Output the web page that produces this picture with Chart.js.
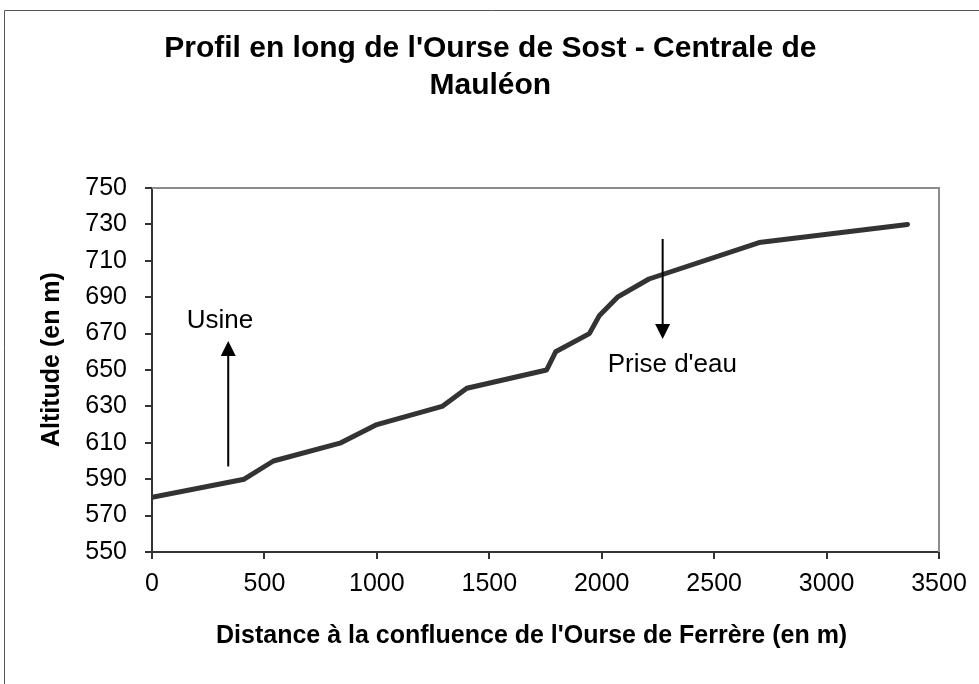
<!DOCTYPE html>
<html>
<head>
<meta charset="utf-8">
<script src="https://cdn.jsdelivr.net/npm/chart.js@4/dist/chart.umd.min.js"></script>
<style>
html, body { margin: 0; padding: 0; background: #fff; }
</style>
</head>
<body>
<canvas id="profil" width="979" height="684"></canvas>
<script>
// profil en long : distance (m) / altitude (m)
let distances = [0, 410, 540, 840, 1000, 1290, 1400, 1755, 1795, 1945, 1990, 2070, 2210, 2700, 3360];
let altitudes = [580, 590, 600, 610, 620, 630, 640, 650, 660, 670, 680, 690, 700, 720, 730];
let xTicks = [0, 500, 1000, 1500, 2000, 2500, 3000, 3500];
let yTicks = [550, 570, 590, 610, 630, 650, 670, 690, 710, 730, 750];

// fleches : abscisse, depart, pointe (en unites du graphique)
let arrowLabels = ['Usine', "Prise d'eau"];
let arrowX = [339, 2271];
let arrowFrom = [597, 722];
let arrowTo = [666, 667];
let labelX = [302, 2314];
let labelY = [678, 654];

let fontName = "'Liberation Sans', Arial, sans-serif";
let ink = '#333333';
let pad = '\u00a0\u00a0\u00a0\u00a0\u00a0';

let points = distances.map((d, i) => ({ x: d, y: altitudes[i] }));

let framePlugin = {
    id: 'frame',
    beforeDraw(chart) {
        let ctx = chart.ctx;
        ctx.save();
        ctx.fillStyle = '#fff';
        ctx.fillRect(0, 0, chart.width, chart.height);
        ctx.strokeStyle = '#555';
        ctx.lineWidth = 1;
        ctx.beginPath();
        ctx.moveTo(4.5, chart.height);
        ctx.lineTo(4.5, 10.5);
        ctx.lineTo(chart.width, 10.5);
        ctx.stroke();
        ctx.restore();
    },
    beforeDatasetsDraw(chart) {
        let a = chart.chartArea;
        let ctx = chart.ctx;
        ctx.save();
        ctx.strokeStyle = '#8c8c8c';
        ctx.lineWidth = 2;
        ctx.beginPath();
        ctx.moveTo(a.left, a.top);
        ctx.lineTo(a.right, a.top);
        ctx.lineTo(a.right, a.bottom);
        ctx.stroke();
        ctx.restore();
    }
};

let arrowPlugin = {
    id: 'arrows',
    afterDatasetsDraw(chart) {
        let ctx = chart.ctx;
        let xs = chart.scales.x;
        let ys = chart.scales.y;
        ctx.save();
        ctx.strokeStyle = '#000';
        ctx.fillStyle = '#000';
        ctx.lineWidth = 2;
        for (let i = 0; i < arrowLabels.length; i++) {
            let px = xs.getPixelForValue(arrowX[i]);
            let y0 = ys.getPixelForValue(arrowFrom[i]);
            let y1 = ys.getPixelForValue(arrowTo[i]);
            let dir = y1 < y0 ? 1 : -1;
            ctx.beginPath();
            ctx.moveTo(px, y0);
            ctx.lineTo(px, y1 + dir * 12);
            ctx.stroke();
            ctx.beginPath();
            ctx.moveTo(px, y1);
            ctx.lineTo(px - 7.5, y1 + dir * 15);
            ctx.lineTo(px + 7.5, y1 + dir * 15);
            ctx.closePath();
            ctx.fill();

            ctx.font = '26px ' + fontName;
            ctx.textAlign = 'center';
            ctx.textBaseline = 'middle';
            ctx.fillText(arrowLabels[i], xs.getPixelForValue(labelX[i]), ys.getPixelForValue(labelY[i]) + 2);
        }
        ctx.restore();
    }
};

new Chart(document.getElementById('profil'), {
    type: 'line',
    data: {
        datasets: [{
            data: points,
            borderColor: ink,
            borderWidth: 5,
            borderCapStyle: 'round',
            borderJoinStyle: 'round',
            pointRadius: 0,
            tension: 0,
            fill: false
        }]
    },
    options: {
        responsive: false,
        animation: false,
        devicePixelRatio: 1,
        layout: { padding: { left: 0, right: 40, top: 0, bottom: 0 } },
        plugins: {
            legend: { display: false },
            tooltip: { enabled: false },
            title: {
                display: true,
                text: [pad + "Profil en long de l'Ourse de Sost - Centrale de", pad + 'Mauléon'],
                color: '#000',
                font: { family: fontName, size: 30, weight: 'bold', lineHeight: 1.23 },
                padding: { top: 30.5, bottom: 83.7 }
            }
        },
        scales: {
            x: {
                type: 'linear',
                min: 0,
                max: 3500,
                afterBuildTicks: (s) => { s.ticks = xTicks.map(v => ({ value: v })); },
                afterFit: (s) => { s.height = 132; },
                ticks: {
                    color: '#000',
                    font: { family: fontName, size: 25 },
                    padding: 10,
                    maxRotation: 0,
                    callback: (v) => String(v)
                },
                grid: { drawOnChartArea: false, drawTicks: true, tickLength: 7, color: ink, lineWidth: 2 },
                border: { color: ink, width: 2 },
                title: {
                    display: true,
                    text: "Distance à la confluence de l'Ourse de Ferrère (en m)\u00a0\u00a0\u00a0\u00a0",
                    color: '#000',
                    font: { family: fontName, size: 25, weight: 'bold', lineHeight: 1.2 },
                    padding: { top: 0, bottom: 33 }
                }
            },
            y: {
                min: 550,
                max: 750,
                afterBuildTicks: (s) => { s.ticks = yTicks.map(v => ({ value: v })); },
                afterFit: (s) => { s.width = 152; },
                ticks: {
                    color: '#000',
                    font: { family: fontName, size: 25 },
                    padding: 18,
                    callback: (v) => String(v)
                },
                grid: { drawOnChartArea: false, drawTicks: true, tickLength: 7, color: ink, lineWidth: 2 },
                border: { color: ink, width: 2 },
                title: {
                    display: true,
                    text: '\u00a0\u00a0\u00a0Altitude (en m)',
                    color: '#000',
                    font: { family: fontName, size: 25, weight: 'bold', lineHeight: 1.2 },
                    padding: { top: 37, bottom: 0 }
                }
            }
        }
    },
    plugins: [framePlugin, arrowPlugin]
});
</script>
</body>
</html>
